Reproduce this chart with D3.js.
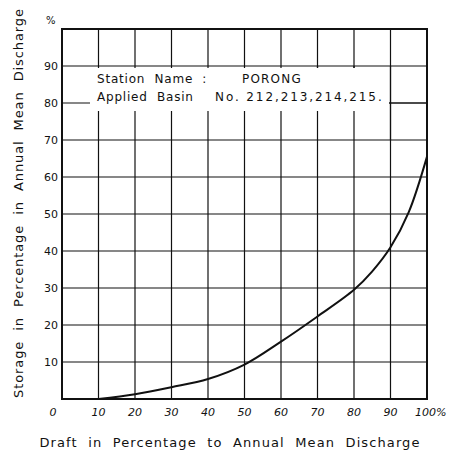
<!DOCTYPE html>
<html><head><meta charset="utf-8">
<script src="https://cdn.jsdelivr.net/npm/d3@7"></script>
<style>body{margin:0;background:#fff}svg{display:block}text{font-family:"DejaVu Sans",sans-serif;fill:#111;white-space:pre}</style>
</head><body><svg id="c" width="452" height="460"></svg>
<script>
const draftPct = [10, 20, 30, 40, 50, 60, 70, 80, 85, 90, 95, 100];
const storagePct = [0, 1.3, 3.2, 5.4, 9.3, 15.5, 22.3, 29.5, 34.5, 41, 50.5, 65.5];
const xTicks = [0, 10, 20, 30, 40, 50, 60, 70, 80, 90, 100];
const yTicks = [10, 20, 30, 40, 50, 60, 70, 80, 90];
const stationLabel = "Station  Name  :";
const stationName = "PORONG";
const basinLabel = "Applied  Basin";
const basinNos = "No. 212,213,214,215.";
const xTitle = "Draft  in  Percentage  to  Annual  Mean  Discharge";
const yTitle = "Storage  in  Percentage  in  Annual  Mean  Discharge";

const svg = d3.select("#c");
const x = d3.scaleLinear().domain([0, 100]).range([62, 427]);
const y = d3.scaleLinear().domain([0, 100]).range([399, 29]);

// grid
const g = svg.append("g").attr("stroke", "#111").attr("stroke-width", 1.2);
xTicks.slice(1, -1).forEach(t => g.append("line").attr("x1", x(t)).attr("x2", x(t)).attr("y1", y(100)).attr("y2", y(0)));
yTicks.forEach(t => g.append("line").attr("x1", x(0)).attr("x2", x(100)).attr("y1", y(t)).attr("y2", y(t)));

// text box (white)
svg.append("rect").attr("x", 90).attr("y", y(90) + 2).attr("width", 299).attr("height", 43).attr("fill", "#fff");
[70, 80].forEach(t => g.append("line").attr("x1", x(t)).attr("x2", x(t)).attr("y1", y(90)).attr("y2", 84));
g.append("line").attr("x1", x(90)).attr("x2", x(90)).attr("y1", y(90)).attr("y2", y(70));
g.append("line").attr("x1", 389).attr("x2", x(100)).attr("y1", y(80)).attr("y2", y(80));

// frame
svg.append("rect").attr("x", x(0)).attr("y", y(100)).attr("width", x(100) - x(0)).attr("height", y(0) - y(100))
  .attr("fill", "none").attr("stroke", "#111").attr("stroke-width", 2);

// curve
const pts = draftPct.map((d, i) => [d, storagePct[i]]);
svg.append("path").datum(pts)
  .attr("d", d3.line().x(d => x(d[0])).y(d => y(d[1])).curve(d3.curveCatmullRom.alpha(0.5)))
  .attr("fill", "none").attr("stroke", "#111").attr("stroke-width", 2);

// y tick labels
svg.append("g").selectAll("text").data(yTicks).join("text")
  .attr("x", 58).attr("y", d => y(d) + 4).attr("text-anchor", "end").attr("font-size", 11).text(d => d);
svg.append("text").attr("x", 46).attr("y", 24).attr("font-size", 10).text("%");

// x tick labels
svg.append("g").selectAll("text").data(xTicks).join("text")
  .attr("x", d => d === 0 ? 53 : x(d)).attr("y", 416).attr("text-anchor", d => d === 100 ? "start" : "middle")
  .attr("dx", d => d === 100 ? -12 : 0)
  .attr("font-size", 11).attr("font-style", "italic")
  .text(d => d === 100 ? "100%" : d);

// box text
svg.append("text").attr("x", 97).attr("y", 83).attr("font-size", 12).attr("letter-spacing", 0.8).text(stationLabel);
svg.append("text").attr("x", 242).attr("y", 83).attr("font-size", 12).attr("letter-spacing", 1.2).text(stationName);
svg.append("text").attr("x", 97).attr("y", 101).attr("font-size", 12).attr("letter-spacing", 0.8).text(basinLabel);
svg.append("text").attr("x", 215).attr("y", 101).attr("font-size", 12).attr("letter-spacing", 1.9).text(basinNos);

// axis titles
svg.append("text").attr("x", 230).attr("y", 447).attr("text-anchor", "middle").attr("font-size", 13)
  .attr("letter-spacing", 1.1).text(xTitle);
svg.append("text").attr("transform", "translate(23,203) rotate(-90)").attr("text-anchor", "middle")
  .attr("font-size", 13).attr("letter-spacing", 0.9).text(yTitle);
</script></body></html>
